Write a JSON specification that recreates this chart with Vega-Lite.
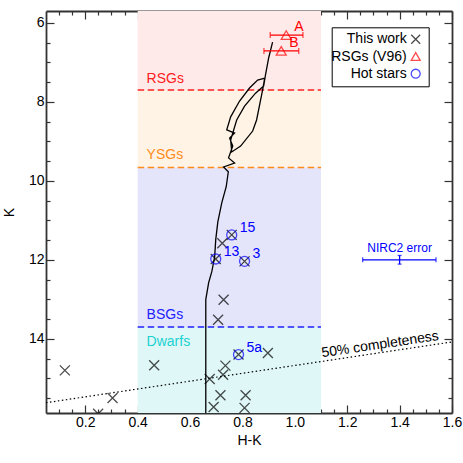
{
  "$schema": "https://vega.github.io/schema/vega-lite/v6.json",
  "width": 406,
  "height": 402,
  "autosize": {"type": "none"},
  "padding": {"left": 46, "top": 11, "right": 11, "bottom": 50},
  "background": "white",
  "config": {
    "view": {"stroke": null},
    "font": "Liberation Sans",
    "axis": {
      "labelFont": "Liberation Sans", "titleFont": "Liberation Sans",
      "labelFontSize": 14, "titleFontSize": 14, "titleFontWeight": "normal",
      "labelColor": "black", "titleColor": "black",
      "domainColor": "#333333", "domainWidth": 1.8,
      "tickColor": "#333333", "tickWidth": 1.2,
      "grid": false, "labelFlush": false, "labelOverlap": false, "zindex": 1
    }
  },
  "datasets": {
    "bands": [
      {"band": "RSGs", "h1": 0.4, "h2": 1.1, "k1": 5.7, "k2": 7.7},
      {"band": "YSGs", "h1": 0.4, "h2": 1.1, "k1": 7.7, "k2": 9.66},
      {"band": "BSGs", "h1": 0.4, "h2": 1.1, "k1": 9.66, "k2": 13.7},
      {"band": "Dwarfs", "h1": 0.4, "h2": 1.1, "k1": 13.7, "k2": 15.88}
    ],
    "bandlabels": [
      {"band": "RSGs", "hk": 0.434, "k": 7.53},
      {"band": "YSGs", "hk": 0.434, "k": 9.45},
      {"band": "BSGs", "hk": 0.434, "k": 13.5},
      {"band": "Dwarfs", "hk": 0.434, "k": 14.19}
    ],
    "iso": [
      {"i": 1, "hk": 0.660, "k": 15.88},
      {"i": 2, "hk": 0.660, "k": 13.01},
      {"i": 3, "hk": 0.671, "k": 12.58},
      {"i": 4, "hk": 0.683, "k": 12.30},
      {"i": 5, "hk": 0.694, "k": 11.92},
      {"i": 6, "hk": 0.698, "k": 11.49},
      {"i": 7, "hk": 0.706, "k": 11.04},
      {"i": 8, "hk": 0.721, "k": 10.56},
      {"i": 9, "hk": 0.738, "k": 10.15},
      {"i": 10, "hk": 0.746, "k": 9.77},
      {"i": 11, "hk": 0.728, "k": 9.65},
      {"i": 12, "hk": 0.770, "k": 9.55},
      {"i": 13, "hk": 0.747, "k": 9.42},
      {"i": 14, "hk": 0.763, "k": 9.12},
      {"i": 15, "hk": 0.751, "k": 8.92},
      {"i": 16, "hk": 0.770, "k": 8.79},
      {"i": 17, "hk": 0.740, "k": 8.71},
      {"i": 18, "hk": 0.755, "k": 8.38},
      {"i": 19, "hk": 0.789, "k": 7.98},
      {"i": 20, "hk": 0.827, "k": 7.65},
      {"i": 21, "hk": 0.858, "k": 7.45},
      {"i": 22, "hk": 0.885, "k": 7.40},
      {"i": 23, "hk": 0.877, "k": 7.70},
      {"i": 24, "hk": 0.854, "k": 8.46},
      {"i": 25, "hk": 0.839, "k": 8.74},
      {"i": 26, "hk": 0.793, "k": 9.12},
      {"i": 27, "hk": 0.759, "k": 9.27},
      {"i": 28, "hk": 0.755, "k": 8.97},
      {"i": 29, "hk": 0.778, "k": 8.46},
      {"i": 30, "hk": 0.808, "k": 8.11},
      {"i": 31, "hk": 0.850, "k": 7.78},
      {"i": 32, "hk": 0.881, "k": 7.60},
      {"i": 33, "hk": 0.888, "k": 7.32},
      {"i": 34, "hk": 0.900, "k": 6.89},
      {"i": 35, "hk": 0.915, "k": 6.49}
    ],
    "completeness": [
      {"hk": 0.05, "k": 15.62},
      {"hk": 1.6, "k": 14.08}
    ],
    "compltext": [
      {"hk": 1.33, "k": 14.35, "t": "50% completeness"}
    ],
    "rsgerr": [
      {"name": "A", "hk": 0.967, "k": 6.31, "lo": 0.906, "hi": 1.031},
      {"name": "B", "hk": 0.948, "k": 6.71, "lo": 0.882, "hi": 1.015}
    ],
    "nirc": [
      {"hk": 1.4, "k": 12.0, "lo": 1.259, "hi": 1.539, "klo": 11.89, "khi": 12.11, "t": "NIRC2 error"}
    ],
    "points": [
      {"series": "This work", "hk": 0.122, "k": 14.80},
      {"series": "This work", "hk": 0.463, "k": 14.67},
      {"series": "This work", "hk": 0.304, "k": 15.50},
      {"series": "This work", "hk": 0.249, "k": 15.90},
      {"series": "This work", "hk": 0.675, "k": 15.02},
      {"series": "This work", "hk": 0.716, "k": 15.43},
      {"series": "This work", "hk": 0.690, "k": 15.73},
      {"series": "This work", "hk": 0.726, "k": 14.91},
      {"series": "This work", "hk": 0.735, "k": 14.68},
      {"series": "This work", "hk": 0.728, "k": 13.01},
      {"series": "This work", "hk": 0.707, "k": 13.52},
      {"series": "This work", "hk": 0.723, "k": 11.58},
      {"series": "This work", "hk": 0.698, "k": 11.98},
      {"series": "This work", "hk": 0.759, "k": 11.37},
      {"series": "This work", "hk": 0.808, "k": 12.04},
      {"series": "This work", "hk": 0.785, "k": 14.40},
      {"series": "This work", "hk": 0.897, "k": 14.36},
      {"series": "This work", "hk": 0.812, "k": 15.43},
      {"series": "This work", "hk": 0.808, "k": 15.75},
      {"series": "RSGs (V96)", "hk": 0.967, "k": 6.31},
      {"series": "RSGs (V96)", "hk": 0.948, "k": 6.71},
      {"series": "Hot stars", "hk": 0.759, "k": 11.37},
      {"series": "Hot stars", "hk": 0.698, "k": 11.98},
      {"series": "Hot stars", "hk": 0.808, "k": 12.04},
      {"series": "Hot stars", "hk": 0.785, "k": 14.40}
    ],
    "hotlabels": [
      {"name": "15", "hk": 0.759, "k": 11.37},
      {"name": "13", "hk": 0.698, "k": 11.98},
      {"name": "3", "hk": 0.808, "k": 12.04},
      {"name": "5a", "hk": 0.785, "k": 14.40}
    ]
  },
  "layer": [
    {
      "data": {"name": "bands"},
      "mark": {"type": "rect"},
      "encoding": {
        "x": {"field": "h1", "type": "quantitative", "scale": {"domain": [0.05, 1.6], "nice": false, "zero": false},
          "axis": {"orient": "bottom", "values": [0.1,0.15,0.25,0.3,0.35,0.45,0.5,0.55,0.65,0.7,0.75,0.85,0.9,0.95,1.05,1.1,1.15,1.25,1.3,1.35,1.45,1.5,1.55], "labels": false, "domain": false, "tickSize": -4, "title": null}},
        "x2": {"field": "h2"},
        "y": {"field": "k1", "type": "quantitative", "scale": {"domain": [5.7, 15.88], "reverse": true, "nice": false, "zero": false},
          "axis": {"orient": "left", "values": [6.5,7,7.5,8.5,9,9.5,10.5,11,11.5,12.5,13,13.5,14.5,15,15.5], "labels": false, "domain": false, "tickSize": -4, "title": null}},
        "y2": {"field": "k2"},
        "fill": {"field": "band", "type": "nominal", "scale": {"domain": ["RSGs", "YSGs", "BSGs", "Dwarfs"], "range": ["#ffeaea", "#fff3e6", "#e4e4fa", "#e0f7f7"]}, "legend": null}
      }
    },
    {
      "data": {"name": "bands"},
      "transform": [{"filter": "datum.band != 'Dwarfs'"}],
      "mark": {"type": "rule", "strokeDash": [6.5, 3.5], "strokeWidth": 1.5},
      "encoding": {
        "x": {"field": "h1", "type": "quantitative", "scale": {"domain": [0.05, 1.6], "nice": false, "zero": false},
          "axis": {"orient": "top", "values": [0.1,0.15,0.25,0.3,0.35,0.45,0.5,0.55,0.65,0.7,0.75,0.85,0.9,0.95,1.05,1.1,1.15,1.25,1.3,1.35,1.45,1.5,1.55], "labels": false, "domain": false, "tickSize": -4, "title": null}},
        "x2": {"field": "h2"},
        "y": {"field": "k2", "type": "quantitative", "scale": {"domain": [5.7, 15.88], "reverse": true, "nice": false, "zero": false},
          "axis": {"orient": "right", "values": [6.5,7,7.5,8.5,9,9.5,10.5,11,11.5,12.5,13,13.5,14.5,15,15.5], "labels": false, "domain": false, "tickSize": -4, "title": null}},
        "color": {"field": "band", "type": "nominal", "scale": {"domain": ["RSGs", "YSGs", "BSGs", "Dwarfs"], "range": ["#ff2020", "#ff8c1a", "#2020ff", "#1ad2d2"]}, "legend": null}
      }
    },
    {
      "data": {"name": "bandlabels"},
      "mark": {"type": "text", "align": "left", "baseline": "alphabetic", "fontSize": 14, "font": "Liberation Sans"},
      "encoding": {
        "x": {"field": "hk", "type": "quantitative", "scale": {"domain": [0.05, 1.6], "nice": false, "zero": false}, "axis": null},
        "y": {"field": "k", "type": "quantitative", "scale": {"domain": [5.7, 15.88], "reverse": true, "nice": false, "zero": false}, "axis": null},
        "text": {"field": "band"},
        "color": {"field": "band", "type": "nominal", "scale": {"domain": ["RSGs", "YSGs", "BSGs", "Dwarfs"], "range": ["#ff2020", "#ff8c1a", "#2020ff", "#1ad2d2"]}, "legend": null}
      }
    },
    {
      "data": {"name": "iso"},
      "mark": {"type": "line", "color": "black", "strokeWidth": 1.3, "clip": true},
      "encoding": {
        "x": {"field": "hk", "type": "quantitative", "scale": {"domain": [0.05, 1.6], "nice": false, "zero": false}, "axis": null},
        "y": {"field": "k", "type": "quantitative", "scale": {"domain": [5.7, 15.88], "reverse": true, "nice": false, "zero": false}, "axis": null},
        "order": {"field": "i", "type": "quantitative"}
      }
    },
    {
      "data": {"name": "completeness"},
      "mark": {"type": "line", "color": "black", "strokeWidth": 1.2, "strokeDash": [1.5, 2.5]},
      "encoding": {
        "x": {"field": "hk", "type": "quantitative", "scale": {"domain": [0.05, 1.6], "nice": false, "zero": false},
          "axis": {"orient": "top", "values": [0.2,0.4,0.6,0.8,1.0,1.2,1.4,1.6], "labels": false, "tickSize": -8, "title": null}},
        "y": {"field": "k", "type": "quantitative", "scale": {"domain": [5.7, 15.88], "reverse": true, "nice": false, "zero": false},
          "axis": {"orient": "right", "values": [6,8,10,12,14], "labels": false, "tickSize": -8, "title": null}}
      }
    },
    {
      "data": {"name": "compltext"},
      "mark": {"type": "text", "align": "center", "baseline": "alphabetic", "angle": -8.5, "fontSize": 14, "font": "Liberation Sans", "dy": -4, "color": "black"},
      "encoding": {
        "x": {"field": "hk", "type": "quantitative", "scale": {"domain": [0.05, 1.6], "nice": false, "zero": false}, "axis": null},
        "y": {"field": "k", "type": "quantitative", "scale": {"domain": [5.7, 15.88], "reverse": true, "nice": false, "zero": false}, "axis": null},
        "text": {"field": "t"}
      }
    },
    {
      "data": {"name": "rsgerr"},
      "mark": {"type": "rule", "color": "red", "strokeWidth": 1.3},
      "encoding": {
        "x": {"field": "lo", "type": "quantitative", "scale": {"domain": [0.05, 1.6], "nice": false, "zero": false}, "axis": null},
        "x2": {"field": "hi"},
        "y": {"field": "k", "type": "quantitative", "scale": {"domain": [5.7, 15.88], "reverse": true, "nice": false, "zero": false}, "axis": null}
      }
    },
    {
      "data": {"name": "rsgerr"},
      "mark": {"type": "tick", "orient": "vertical", "color": "red", "size": 6, "thickness": 1.3},
      "encoding": {
        "x": {"field": "lo", "type": "quantitative", "scale": {"domain": [0.05, 1.6], "nice": false, "zero": false}, "axis": null},
        "y": {"field": "k", "type": "quantitative", "scale": {"domain": [5.7, 15.88], "reverse": true, "nice": false, "zero": false}, "axis": null}
      }
    },
    {
      "data": {"name": "rsgerr"},
      "mark": {"type": "tick", "orient": "vertical", "color": "red", "size": 6, "thickness": 1.3},
      "encoding": {
        "x": {"field": "hi", "type": "quantitative", "scale": {"domain": [0.05, 1.6], "nice": false, "zero": false}, "axis": null},
        "y": {"field": "k", "type": "quantitative", "scale": {"domain": [5.7, 15.88], "reverse": true, "nice": false, "zero": false}, "axis": null}
      }
    },
    {
      "data": {"name": "rsgerr"},
      "mark": {"type": "text", "align": "left", "baseline": "middle", "dx": 8, "dy": -8, "fontSize": 14, "font": "Liberation Sans", "color": "red"},
      "encoding": {
        "x": {"field": "hk", "type": "quantitative", "scale": {"domain": [0.05, 1.6], "nice": false, "zero": false}, "axis": null},
        "y": {"field": "k", "type": "quantitative", "scale": {"domain": [5.7, 15.88], "reverse": true, "nice": false, "zero": false}, "axis": null},
        "text": {"field": "name"}
      }
    },
    {
      "data": {"name": "nirc"},
      "mark": {"type": "rule", "color": "blue", "strokeWidth": 1.3},
      "encoding": {
        "x": {"field": "lo", "type": "quantitative", "scale": {"domain": [0.05, 1.6], "nice": false, "zero": false}, "axis": null},
        "x2": {"field": "hi"},
        "y": {"field": "k", "type": "quantitative", "scale": {"domain": [5.7, 15.88], "reverse": true, "nice": false, "zero": false}, "axis": null}
      }
    },
    {
      "data": {"name": "nirc"},
      "mark": {"type": "rule", "color": "blue", "strokeWidth": 1.3},
      "encoding": {
        "x": {"field": "hk", "type": "quantitative", "scale": {"domain": [0.05, 1.6], "nice": false, "zero": false}, "axis": null},
        "y": {"field": "klo", "type": "quantitative", "scale": {"domain": [5.7, 15.88], "reverse": true, "nice": false, "zero": false}, "axis": null},
        "y2": {"field": "khi"}
      }
    },
    {
      "data": {"name": "nirc"},
      "mark": {"type": "tick", "orient": "vertical", "color": "blue", "size": 5, "thickness": 1.3},
      "encoding": {
        "x": {"field": "lo", "type": "quantitative", "scale": {"domain": [0.05, 1.6], "nice": false, "zero": false}, "axis": null},
        "y": {"field": "k", "type": "quantitative", "scale": {"domain": [5.7, 15.88], "reverse": true, "nice": false, "zero": false}, "axis": null}
      }
    },
    {
      "data": {"name": "nirc"},
      "mark": {"type": "tick", "orient": "vertical", "color": "blue", "size": 5, "thickness": 1.3},
      "encoding": {
        "x": {"field": "hi", "type": "quantitative", "scale": {"domain": [0.05, 1.6], "nice": false, "zero": false}, "axis": null},
        "y": {"field": "k", "type": "quantitative", "scale": {"domain": [5.7, 15.88], "reverse": true, "nice": false, "zero": false}, "axis": null}
      }
    },
    {
      "data": {"name": "nirc"},
      "mark": {"type": "tick", "orient": "horizontal", "color": "blue", "size": 4, "thickness": 1.3},
      "encoding": {
        "x": {"field": "hk", "type": "quantitative", "scale": {"domain": [0.05, 1.6], "nice": false, "zero": false}, "axis": null},
        "y": {"field": "klo", "type": "quantitative", "scale": {"domain": [5.7, 15.88], "reverse": true, "nice": false, "zero": false}, "axis": null}
      }
    },
    {
      "data": {"name": "nirc"},
      "mark": {"type": "tick", "orient": "horizontal", "color": "blue", "size": 4, "thickness": 1.3},
      "encoding": {
        "x": {"field": "hk", "type": "quantitative", "scale": {"domain": [0.05, 1.6], "nice": false, "zero": false}, "axis": null},
        "y": {"field": "khi", "type": "quantitative", "scale": {"domain": [5.7, 15.88], "reverse": true, "nice": false, "zero": false}, "axis": null}
      }
    },
    {
      "data": {"name": "nirc"},
      "mark": {"type": "text", "align": "center", "baseline": "middle", "dy": -12, "fontSize": 12, "font": "Liberation Sans", "color": "blue"},
      "encoding": {
        "x": {"field": "hk", "type": "quantitative", "scale": {"domain": [0.05, 1.6], "nice": false, "zero": false}, "axis": null},
        "y": {"field": "k", "type": "quantitative", "scale": {"domain": [5.7, 15.88], "reverse": true, "nice": false, "zero": false}, "axis": null},
        "text": {"field": "t"}
      }
    },
    {
      "data": {"name": "points"},
      "mark": {"type": "point", "filled": false, "size": 100, "strokeWidth": 1.3, "clip": true},
      "encoding": {
        "x": {"field": "hk", "type": "quantitative", "scale": {"domain": [0.05, 1.6], "nice": false, "zero": false},
          "axis": {"orient": "bottom", "values": [0.2,0.4,0.6,0.8,1.0,1.2,1.4,1.6], "format": ".1f", "tickSize": -8, "labelPadding": 10, "title": "H-K", "titlePadding": 4}},
        "y": {"field": "k", "type": "quantitative", "scale": {"domain": [5.7, 15.88], "reverse": true, "nice": false, "zero": false},
          "axis": {"orient": "left", "values": [6,8,10,12,14], "format": "d", "tickSize": -8, "labelPadding": 10, "title": "K", "titlePadding": 12}},
        "shape": {"field": "series", "type": "nominal",
          "scale": {"domain": ["This work", "RSGs (V96)", "Hot stars"], "range": ["M-1,-1L1,1M-1,1L1,-1", "triangle-up", "circle"]},
          "legend": {"title": null, "orient": "none", "legendX": 285.7, "legendY": 16.3, "labelFont": "Liberation Sans", "labelFontSize": 14, "labelColor": "black", "labelAlign": "right", "labelOffset": -16, "symbolOffset": 72, "symbolSize": 80, "symbolStrokeWidth": 1.3, "strokeColor": "black", "fillColor": "white", "padding": 5, "rowPadding": 2.2}},
        "stroke": {"field": "series", "type": "nominal",
          "scale": {"domain": ["This work", "RSGs (V96)", "Hot stars"], "range": ["black", "red", "blue"]},
          "legend": {"title": null, "orient": "none", "legendX": 285.7, "legendY": 16.3, "labelFont": "Liberation Sans", "labelFontSize": 14, "labelColor": "black", "labelAlign": "right", "labelOffset": -16, "symbolOffset": 72, "symbolSize": 80, "symbolStrokeWidth": 1.3, "strokeColor": "black", "fillColor": "white", "padding": 5, "rowPadding": 2.2}}
      }
    },
    {
      "data": {"name": "hotlabels"},
      "mark": {"type": "text", "align": "left", "baseline": "middle", "dx": 8, "dy": -7, "fontSize": 14, "font": "Liberation Sans", "color": "blue"},
      "encoding": {
        "x": {"field": "hk", "type": "quantitative", "scale": {"domain": [0.05, 1.6], "nice": false, "zero": false}, "axis": null},
        "y": {"field": "k", "type": "quantitative", "scale": {"domain": [5.7, 15.88], "reverse": true, "nice": false, "zero": false}, "axis": null},
        "text": {"field": "name"}
      }
    }
  ],
  "resolve": {"axis": {"x": "independent", "y": "independent"}}
}
